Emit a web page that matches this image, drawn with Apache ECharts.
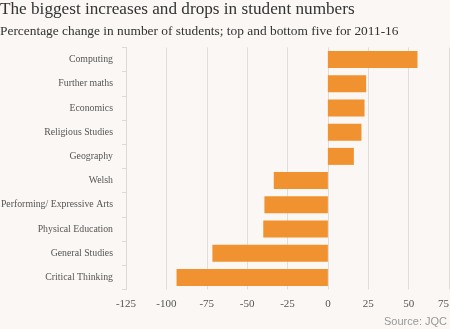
<!DOCTYPE html>
<html>
<head>
<meta charset="utf-8">
<script src="https://cdn.jsdelivr.net/npm/echarts@6/dist/echarts.min.js"></script>
<style>
  html, body { margin: 0; padding: 0; background: #faf7f4; }
  #chart { width: 450px; height: 329px; }
</style>
</head>
<body>
<div id="chart"></div>
<script>
// Subjects, top five rises then bottom five falls
const subjects = [
  'Computing', 'Further maths', 'Economics', 'Religious Studies', 'Geography',
  'Welsh', 'Performing/ Expressive Arts', 'Physical Education', 'General Studies', 'Critical Thinking'
];
// Percentage change in student numbers, 2011-16
const changePct = [55.5, 23.7, 22.7, 20.8, 16.1, -33.5, -39.3, -40, -71.5, -93.7];
// Value-axis ticks
const axisTicks = [-125, -100, -75, -50, -25, 0, 25, 50, 75];

const chart = echarts.init(document.getElementById('chart'), null, { renderer: 'canvas' });
const serif = '"Liberation Serif", "DejaVu Serif", serif';

chart.setOption({
  backgroundColor: '#faf7f4',
  animation: false,
  title: [
    {
      text: 'The biggest increases and drops in student numbers',
      left: 0, top: 1, padding: 0,
      textStyle: { fontFamily: serif, fontSize: 17.2, fontWeight: 'normal', color: '#333' }
    },
    {
      text: 'Percentage change in number of students; top and bottom five for 2011-16',
      left: 0, top: 25, padding: 0,
      textStyle: { fontFamily: serif, fontSize: 13.4, fontWeight: 'normal', color: '#333' }
    },
    {
      text: 'Source: JQC',
      right: 3, top: 316, padding: 0,
      textStyle: { fontFamily: '"Liberation Sans", Arial, sans-serif', fontSize: 11, fontWeight: 'normal', color: '#999' }
    }
  ],
  grid: { left: 126, right: 1, top: 47.5, bottom: 39.5, containLabel: false, outerBoundsMode: 'none' },
  xAxis: {
    type: 'value',
    min: axisTicks[0],
    max: axisTicks[axisTicks.length - 1],
    interval: 25,
    axisLine: { show: false },
    axisTick: { show: false },
    axisLabel: {
      fontFamily: serif, fontSize: 11, color: '#555', margin: 9,
      alignMaxLabel: 'right'
    },
    splitLine: { show: true, lineStyle: { color: '#e0ddda', width: 1 } }
  },
  yAxis: {
    type: 'category',
    data: subjects,
    inverse: true,
    axisLine: { show: true, onZero: false, lineStyle: { color: '#dcd9d6' } },
    axisTick: { show: true, length: 4, lineStyle: { color: '#dcd9d6' } },
    axisLabel: { fontFamily: serif, fontSize: 9.8, color: '#555', margin: 13 }
  },
  series: [{
    type: 'bar',
    data: changePct,
    barWidth: 17,
    itemStyle: { color: '#f0922f' }
  }]
});
</script>
</body>
</html>
